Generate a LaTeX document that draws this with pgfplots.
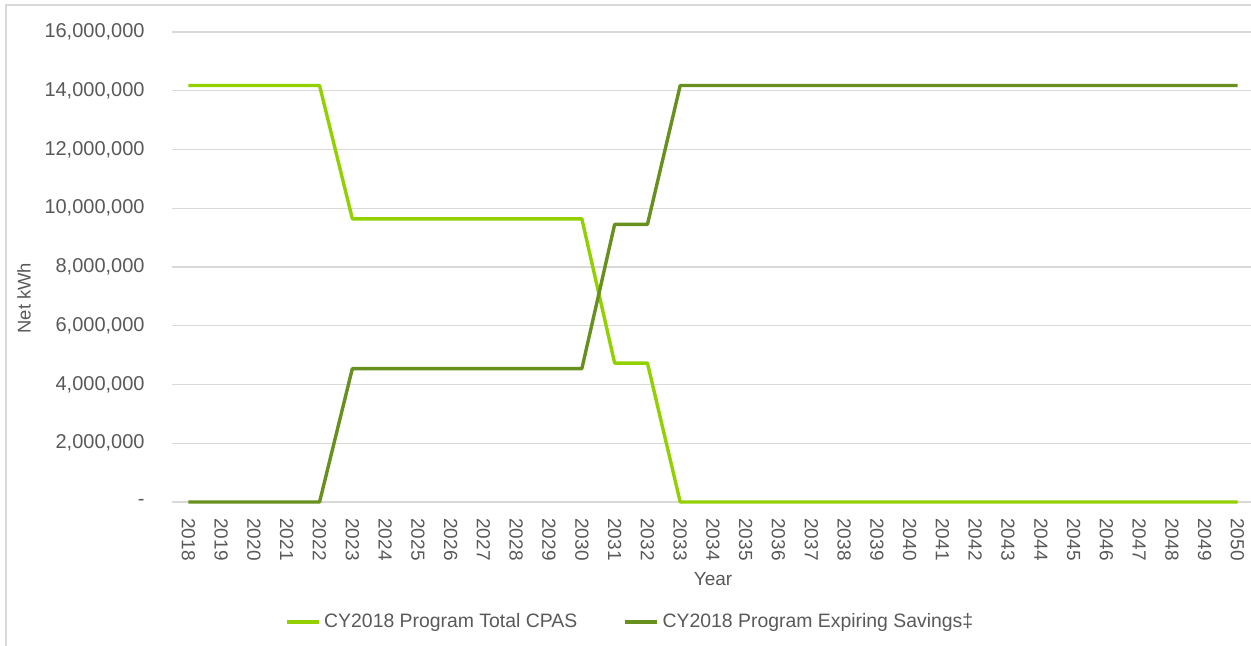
\documentclass[border=0pt]{standalone}
\usepackage{fontspec}
\setmainfont{Liberation Sans}
\usepackage{pgfplots}
\usepackage{pgfplotstable}
\pgfplotsset{compat=1.18}

\definecolor{cpas}{HTML}{92D000}
\definecolor{expiring}{HTML}{68901F}
\definecolor{txt}{HTML}{595959}
\definecolor{gridc}{HTML}{D9D9D9}

% Net kWh by year
\pgfplotstableread{
year cpas expiring
2018 14180000 0
2019 14180000 0
2020 14180000 0
2021 14180000 0
2022 14180000 0
2023 9640000 4540000
2024 9640000 4540000
2025 9640000 4540000
2026 9640000 4540000
2027 9640000 4540000
2028 9640000 4540000
2029 9640000 4540000
2030 9640000 4540000
2031 4730000 9450000
2032 4730000 9450000
2033 0 14180000
2034 0 14180000
2035 0 14180000
2036 0 14180000
2037 0 14180000
2038 0 14180000
2039 0 14180000
2040 0 14180000
2041 0 14180000
2042 0 14180000
2043 0 14180000
2044 0 14180000
2045 0 14180000
2046 0 14180000
2047 0 14180000
2048 0 14180000
2049 0 14180000
2050 0 14180000
}\datatable

\begin{document}
\begin{tikzpicture}
\path[use as bounding box] (0,0) rectangle (625.5pt,-322.5pt);
\draw[gridc, line width=0.7pt] (630pt,-2.5pt) -- (3pt,-2.5pt) -- (3pt,-325pt);
\begin{axis}[
    at={(86pt,-251pt)}, anchor=south west,
    scale only axis,
    width=541pt, height=235pt,
    xmin=2017.5, xmax=2050.5,
    ymin=0, ymax=16000000,
    clip=false,
    axis line style={draw=none},
    major tick length=0pt,
    ymajorgrids,
    grid style={gridc, line width=0.7pt},
    /pgf/number format/assume math mode=true,
    xtick={2018,...,2050},
    xticklabel={\pgfmathprintnumber[1000 sep={}]{\tick}},
    xticklabel style={rotate=-90, anchor=west, inner sep=0pt,
        font=\fontsize{9.5}{11}\selectfont, text=txt},
    xticklabel shift=8pt,
    ytick={0,2000000,4000000,6000000,8000000,10000000,12000000,14000000,16000000},
    yticklabels={-,{2,000,000},{4,000,000},{6,000,000},{8,000,000},{10,000,000},{12,000,000},{14,000,000},{16,000,000}},
    yticklabel style={anchor=east, inner sep=0pt,
        font=\fontsize{10}{12}\selectfont, text=txt},
    yticklabel shift=13.5pt,
    scaled y ticks=false,
    xlabel={Year},
    xlabel style={at={(rel axis cs:0.5,0)}, anchor=center, yshift=-38.5pt,
        font=\fontsize{9.5}{11}\selectfont, text=txt},
    ylabel={Net kWh},
    ylabel style={at={(rel axis cs:0,0.434)}, anchor=center, yshift=74pt,
        font=\fontsize{9.2}{11}\selectfont, text=txt},
    legend columns=2,
    legend style={at={(axis cs:2031.5,-4085000)}, anchor=center, draw=none, fill=none,
        font=\fontsize{9.7}{11}\selectfont, text=txt,
        /tikz/every even column/.append style={column sep=21pt},
        nodes={inner xsep=2pt}},
    legend image code/.code={\draw[#1, line width=1.7pt] (0pt,0pt) -- (16pt,0pt);},
    every axis plot/.append style={line width=1.7pt, line join=round},
]
\addplot[cpas] table[x=year, y=cpas] {\datatable};
\addlegendentry{CY2018 Program Total CPAS}
\addplot[expiring] table[x=year, y=expiring] {\datatable};
\addlegendentry{CY2018 Program Expiring Savings‡}
\end{axis}
\end{tikzpicture}
\end{document}
